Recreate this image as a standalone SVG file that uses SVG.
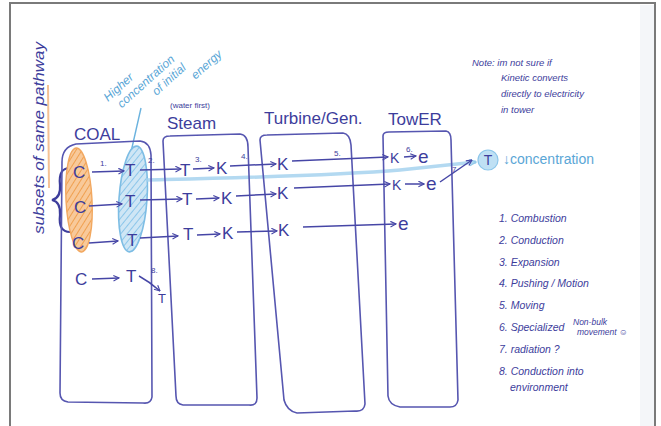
<svg xmlns="http://www.w3.org/2000/svg" width="661" height="426" viewBox="0 0 661 426">
<style>
.box{fill:none;stroke:#5656b0;stroke-width:1.6;stroke-linejoin:round}
.ink{font-family:"Liberation Sans","DejaVu Sans",sans-serif;fill:#3d3d9c}
.big{font-size:17px}
.sm{font-size:8px}
.note{font-size:9.5px;font-style:italic}
.leg{font-size:10.5px;font-style:italic}
.lb{font-family:"Liberation Sans","DejaVu Sans",sans-serif;fill:#5aa6d6}
.ar{fill:none;stroke:#4646a6;stroke-width:1.5;marker-end:url(#ah)}
</style>
<defs>
<marker id="ah" viewBox="0 0 10 10" refX="9" refY="5" markerWidth="7" markerHeight="7" orient="auto" markerUnits="userSpaceOnUse">
<path d="M1,1 L9,5 L1,9" fill="none" stroke="#4646a6" stroke-width="1.6"/>
</marker>
<marker id="ahb" viewBox="0 0 10 10" refX="9" refY="5" markerWidth="8" markerHeight="8" orient="auto" markerUnits="userSpaceOnUse">
<path d="M1,1 L9,5 L1,9" fill="none" stroke="#7fc0e6" stroke-width="1.6"/>
</marker>
<pattern id="hatchO" width="5" height="5" patternUnits="userSpaceOnUse" patternTransform="rotate(35)">
<rect width="5" height="5" fill="#f8c99a"/>
<line x1="0" y1="0" x2="0" y2="5" stroke="#f0a050" stroke-width="2"/>
</pattern>
<pattern id="hatchB" width="5" height="5" patternUnits="userSpaceOnUse" patternTransform="rotate(35)">
<rect width="5" height="5" fill="#cfe6f5"/>
<line x1="0" y1="0" x2="0" y2="5" stroke="#8cc6ea" stroke-width="2"/>
</pattern>
</defs>
<rect x="0" y="0" width="661" height="426" fill="#ffffff"/>
<rect x="10" y="3" width="645" height="430" fill="none" stroke="#7a7a7a" stroke-width="2"/>
<rect x="640" y="5" width="14" height="421" fill="#f4f6f9"/>

<!-- side annotations -->
<g id="side-note">
<line x1="48" y1="85" x2="49" y2="188" stroke="#f3b37a" stroke-width="2" opacity="0.8"/>
<text class="ink" font-size="14" font-style="italic" textLength="192" lengthAdjust="spacingAndGlyphs" transform="translate(44,234) rotate(-90)">subsets of same pathway</text>
<path d="M70,168 Q58,168 60,185 Q61,198 52,200 Q61,202 60,215 Q58,232 70,232" fill="none" stroke="#3d3d9c" stroke-width="2.2"/>
</g>
<g id="higher-note">
<text class="lb" font-size="12" font-style="italic" transform="translate(108,102) rotate(-42)"><tspan x="0" y="0">Higher</tspan><tspan x="6" y="14">concentration</tspan><tspan x="40" y="28">of initial</tspan><tspan x="80" y="42">energy</tspan></text>
<path d="M141,108 Q136,130 131,152" fill="none" stroke="#6ab2de" stroke-width="1.4"/>
</g>

<!-- ellipses -->
<g id="coal-group">
<ellipse cx="79" cy="200" rx="13" ry="52" fill="url(#hatchO)" stroke="#f2a860" stroke-width="1.4" transform="rotate(-3 79 200)"/>
<ellipse cx="133" cy="199" rx="14" ry="53" fill="url(#hatchB)" stroke="#7dbde4" stroke-width="1.6" transform="rotate(4 133 199)"/>
</g>

<!-- blue concentration band -->
<g id="band">
<path d="M146,180 C230,178 330,176 400,170 C430,167 455,164 476,162" fill="none" stroke="#a6d3ef" stroke-width="3.5" opacity="0.85" marker-end="url(#ahb)"/>
<circle cx="488" cy="160" r="10" fill="#bfe0f4" stroke="#8cc6ea" stroke-width="1.2"/>
<text class="ink" x="488" y="165" font-size="14" text-anchor="middle">T</text>
<text class="lb" x="503" y="164" font-size="14">↓concentration</text>
</g>

<!-- boxes -->
<g id="coal">
<path class="box" d="M62,162 Q62,147 76,144 L140,141 Q150,142 151,155 L152,397 Q151,404 143,403 L68,402 Q60,401 60,393 Z"/>
<text class="ink big" x="74" y="140">COAL</text>
</g>
<g id="steam">
<path class="box" d="M163,141 Q163,136 170,136 L240,134 Q248,135 248,147 L257,398 Q257,406 249,405 L183,405 Q176,404 176,396 Z"/>
<text class="ink sm" x="170" y="108">(water first)</text>
<text class="ink big" x="167" y="129">Steam</text>
</g>
<g id="turbine">
<path class="box" d="M260,140 Q260,135 267,135 L343,133 Q350,134 351,145 L365,404 Q364,412 355,411 L297,413 Q287,411 284,400 Z"/>
<text class="ink big" x="264" y="124">Turbine/Gen.</text>
</g>
<g id="tower">
<path class="box" d="M383,136 Q383,132 389,132 L446,131 Q451,132 451,140 L458,400 Q457,407 450,407 L400,407 Q389,405 388,396 Z"/>
<text class="ink big" x="388" y="125">TowER</text>
</g>

<!-- row symbols -->
<g id="symbols" class="ink big">
<text x="73" y="178">C</text><text x="74" y="213">C</text><text x="72" y="249">C</text><text x="75" y="285">C</text>
<text x="125" y="176">T</text><text x="125" y="207">T</text><text x="127" y="246">T</text><text x="126" y="282">T</text>
<text x="180" y="176">T</text><text x="182" y="205">T</text><text x="183" y="240">T</text>
<text x="216" y="174">K</text><text x="221" y="204">K</text><text x="222" y="239">K</text>
<text x="277" y="170">K</text><text x="277" y="199">K</text><text x="278" y="236">K</text>
<text x="390" y="163" font-size="14">K</text><text x="392" y="190" font-size="14">K</text>
<text x="418" y="163" font-size="19">e</text><text x="426" y="190" font-size="19">e</text><text x="398" y="230" font-size="19">e</text>
<text x="158" y="303" font-size="13">T</text>
</g>

<!-- connectors -->
<g id="connectors">
<path class="ar" d="M92,172 L124,171"/>
<path class="ar" d="M140,170 L181,169"/>
<path class="ar" d="M193,169 L214,168"/>
<path class="ar" d="M230,166 L276,164"/>
<path class="ar" d="M292,161 L388,157"/>
<path class="ar" d="M404,157 L416,156"/>
<path class="ar" d="M89,206 L122,204"/>
<path class="ar" d="M140,200 L182,199"/>
<path class="ar" d="M196,199 L219,198"/>
<path class="ar" d="M236,196 L276,194"/>
<path class="ar" d="M294,188 L390,184"/>
<path class="ar" d="M405,184 L424,184"/>
<path class="ar" d="M440,182 L472,160"/>
<path class="ar" d="M89,243 L118,241"/>
<path class="ar" d="M140,238 L178,236"/>
<path class="ar" d="M197,235 L220,234"/>
<path class="ar" d="M237,232 L277,231"/>
<path class="ar" d="M303,227 L396,224"/>
<path class="ar" d="M92,279 L119,278"/>
<path class="ar" d="M139,276 Q150,282 160,291"/>
</g>

<!-- step numbers -->
<g id="step-labels" class="ink" font-size="8">
<text x="100" y="166">1.</text>
<text x="148" y="163">2.</text>
<text x="195" y="162">3.</text>
<text x="241" y="159">4.</text>
<text x="334" y="156">5.</text>
<text x="406" y="152">6.</text>
<text x="452" y="172">7</text>
<text x="151" y="273">8.</text>
</g>

<!-- note -->
<g id="note" class="ink note">
<text x="472" y="66">Note: im not sure if</text>
<text x="501" y="81">Kinetic converts</text>
<text x="501" y="97">directly to electricity</text>
<text x="501" y="113">in tower</text>
</g>

<!-- legend -->
<g id="legend" class="ink leg">
<text x="499" y="222">1. Combustion</text>
<text x="499" y="244">2. Conduction</text>
<text x="499" y="266">3. Expansion</text>
<text x="499" y="287">4. Pushing / Motion</text>
<text x="499" y="309">5. Moving</text>
<text x="499" y="331">6. Specialized</text>
<text x="573" y="325" font-size="8.5">Non-bulk</text>
<text x="577" y="335" font-size="8.5">movement ☺</text>
<text x="499" y="353">7. radiation ?</text>
<text x="499" y="375">8. Conduction into</text>
<text x="510" y="391">environment</text>
</g>
</svg>
